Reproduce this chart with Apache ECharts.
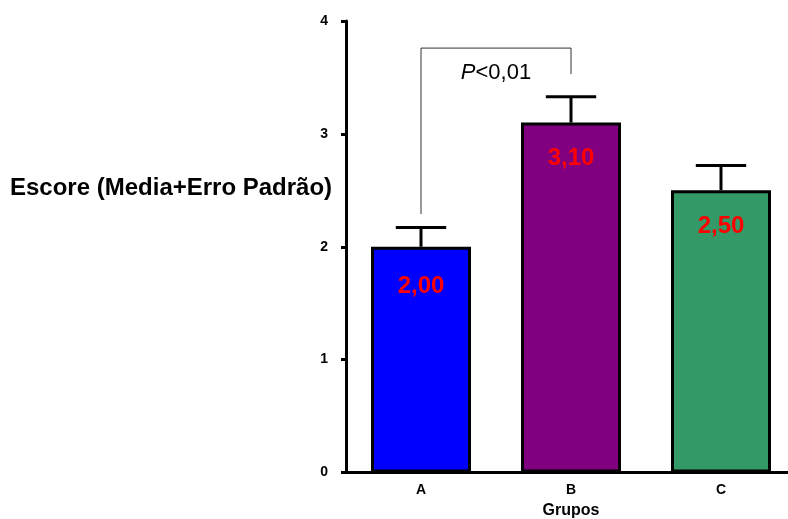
<!DOCTYPE html>
<html>
<head>
<meta charset="utf-8">
<script src="https://cdn.jsdelivr.net/npm/echarts@6/dist/echarts.min.js"></script>
<style>html,body{margin:0;padding:0;background:#fff}#c{width:788px;height:519px}</style>
</head>
<body>
<div id="c"></div>
<script>
const categories = ['A', 'B', 'C'];
const means = [2.00, 3.10, 2.50];
const errors = [0.17, 0.23, 0.22];
const meanLabels = ['2,00', '3,10', '2,50'];
const barColors = ['#0000FF', '#800080', '#339966'];
const yTicks = [0, 1, 2, 3, 4];
// significance bracket: from category index, to category index, top, left end, right end, text value
const bracketCats = [0, 1];
const bracketLevels = [3.76, 2.29, 3.53, 3.54];
const bracketText = 'P<0,01';

const FONT = 'Liberation Sans, Arial, sans-serif';
const chart = echarts.init(document.getElementById('c'));

chart.setOption({
  animation: false,
  backgroundColor: '#fff',
  title: {
    text: 'Escore (Media+Erro Padrão)',
    left: 10, top: 176, padding: 0,
    textStyle: { fontFamily: FONT, fontWeight: 'bold', fontSize: 24, color: '#000' }
  },
  grid: { left: 346, width: 450, top: 21, bottom: 46.5, containLabel: false, outerBoundsMode: 'none' },
  xAxis: {
    type: 'category',
    data: categories,
    name: 'Grupos',
    nameLocation: 'middle',
    nameGap: 28,
    nameTextStyle: { fontFamily: FONT, fontWeight: 'bold', fontSize: 16, color: '#000' },
    axisLine: { lineStyle: { color: '#000', width: 3 } },
    axisTick: { show: false },
    axisLabel: { margin: 11, fontFamily: FONT, fontWeight: 'bold', fontSize: 14, color: '#000' }
  },
  yAxis: {
    type: 'value',
    min: 0, max: 4, interval: 1,
    axisLine: { show: true, lineStyle: { color: '#000', width: 3 } },
    axisTick: { show: true, length: 5, lineStyle: { color: '#000', width: 3 } },
    splitLine: { show: false },
    axisLabel: {
      margin: 18, fontFamily: FONT, fontWeight: 'bold', fontSize: 14, color: '#000',
      formatter: v => yTicks.includes(v) ? String(v) : ''
    }
  },
  series: [
    {
      type: 'custom',
      z: 1,
      data: categories.map((c, i) => [i, means[i], errors[i]]),
      renderItem: function (params, api) {
        const i = api.value(0), m = api.value(1), e = api.value(2);
        const p0 = api.coord([i, m]);
        const p1 = api.coord([i, m + e]);
        const half = api.size([1, 0])[0] * 0.168;
        const st = { stroke: '#000', lineWidth: 3 };
        return {
          type: 'group',
          children: [
            { type: 'line', shape: { x1: p0[0], y1: p0[1], x2: p1[0], y2: p1[1] }, style: st },
            { type: 'line', shape: { x1: p1[0] - half, y1: p1[1], x2: p1[0] + half, y2: p1[1] }, style: st }
          ]
        };
      }
    },
    {
      type: 'bar',
      z: 2,
      barWidth: 100,
      data: means.map((v, i) => ({
        value: v,
        itemStyle: { color: barColors[i], borderColor: '#000', borderWidth: 3 },
        label: { distance: i === 0 ? 28 : 24 }
      })),
      label: {
        show: true,
        position: 'insideTop',
        distance: 24,
        formatter: p => meanLabels[p.dataIndex],
        fontFamily: FONT, fontWeight: 'bold', fontSize: 24, color: '#FF0000'
      }
    },
    {
      type: 'custom',
      z: 3,
      data: [[bracketCats[0], bracketCats[1], bracketLevels[0], bracketLevels[1], bracketLevels[2], bracketLevels[3]]],
      renderItem: function (params, api) {
        const a = api.value(0), b = api.value(1);
        const top = api.value(2), le = api.value(3), re = api.value(4), tv = api.value(5);
        const pa = api.coord([a, top]), pb = api.coord([b, top]);
        const pae = api.coord([a, le]), pbe = api.coord([b, re]);
        const tx = (pa[0] + pb[0]) / 2, ty = api.coord([a, tv])[1];
        return {
          type: 'group',
          children: [
            { type: 'polyline', shape: { points: [pae, pa, pb, pbe] }, style: { stroke: '#333', lineWidth: 1, fill: null } },
            {
              type: 'text', x: tx, y: ty,
              style: {
                text: '{i|P}{n|' + bracketText.slice(1) + '}',
                align: 'center', verticalAlign: 'middle',
                rich: {
                  i: { fontFamily: FONT, fontStyle: 'italic', fontSize: 22, fill: '#000' },
                  n: { fontFamily: FONT, fontSize: 22, fill: '#000' }
                }
              }
            }
          ]
        };
      }
    }
  ]
});
</script>
</body>
</html>
